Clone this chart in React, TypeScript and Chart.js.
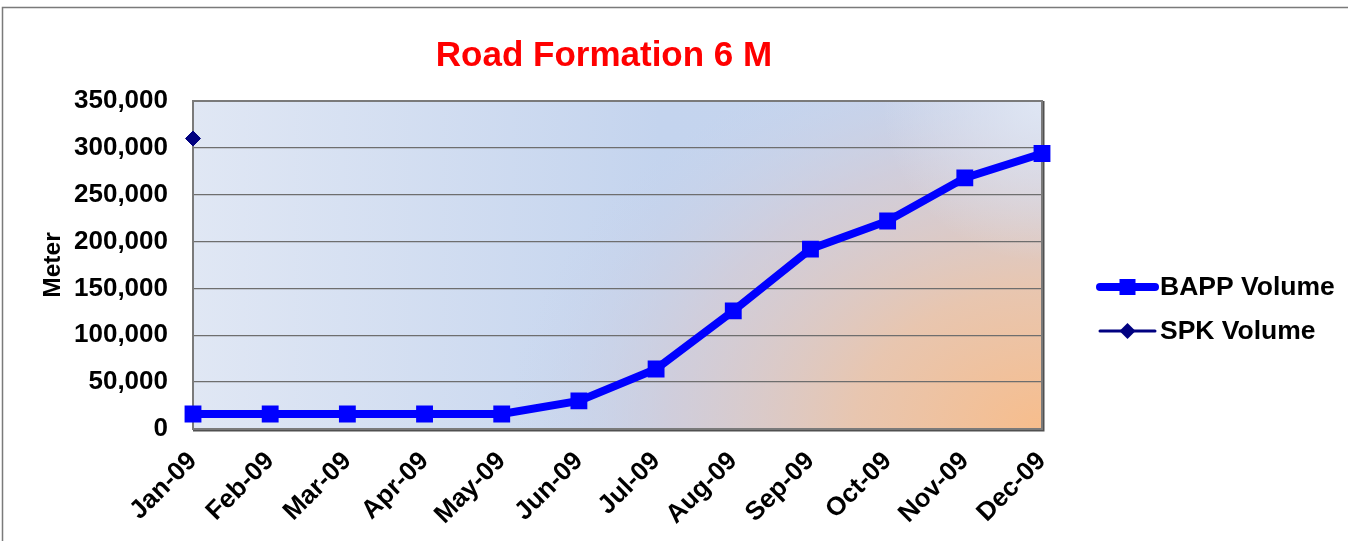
import React, { useEffect, useRef } from 'react';
import { Chart, registerables } from 'chart.js';

Chart.register(...registerables);

const categories = ['Jan-09', 'Feb-09', 'Mar-09', 'Apr-09', 'May-09', 'Jun-09', 'Jul-09', 'Aug-09', 'Sep-09', 'Oct-09', 'Nov-09', 'Dec-09'];
const bappVolume = [16000, 16000, 16000, 16000, 16000, 30000, 64000, 126000, 192000, 222000, 268000, 294000];
const spkVolume: (number | null)[] = [310000, null, null, null, null, null, null, null, null, null, null, null];
const seriesNames = ['BAPP Volume', 'SPK Volume'];
const titleText = 'Road Formation 6 M';
const yAxisTitle = 'Meter';
const yMin = 0;
const yMax = 350000;
const yStep = 50000;

const FONT = 'Arial, "Liberation Sans", Helvetica, sans-serif';
const BAPP_COLOR = '#0000ff';
const SPK_COLOR = '#000080';

const decorPlugin = {
  id: 'decor',
  beforeDraw(chart: any) {
    const { ctx, chartArea: a, width, height } = chart;
    ctx.save();
    ctx.fillStyle = '#ffffff';
    ctx.fillRect(0, 0, width, height);
    // outer frame
    ctx.strokeStyle = '#7a7a7a';
    ctx.lineWidth = 1.5;
    ctx.beginPath();
    ctx.moveTo(2.5, height + 5);
    ctx.lineTo(2.5, 7.5);
    ctx.lineTo(width + 5, 7.5);
    ctx.stroke();
    // plot background
    const w = a.right - a.left;
    const h = a.bottom - a.top;
    const lin = ctx.createLinearGradient(a.left, 0, a.right, 0);
    lin.addColorStop(0, '#e0e7f4');
    lin.addColorStop(0.55, '#c4d4ee');
    lin.addColorStop(1, '#c6d5ee');
    ctx.fillStyle = lin;
    ctx.fillRect(a.left, a.top, w, h);
    // orange radial at bottom right
    ctx.save();
    ctx.beginPath();
    ctx.rect(a.left, a.top, w, h);
    ctx.clip();
    ctx.translate(a.right, a.bottom);
    ctx.scale(1.4, 1.05);
    const rad = ctx.createRadialGradient(0, 0, 0, 0, 0, 380);
    rad.addColorStop(0, 'rgba(247,189,140,1)');
    rad.addColorStop(0.35, 'rgba(234,197,172,0.95)');
    rad.addColorStop(0.7, 'rgba(214,202,210,0.65)');
    rad.addColorStop(1, 'rgba(200,210,235,0)');
    ctx.fillStyle = rad;
    ctx.fillRect(-2000, -2000, 4000, 4000);
    ctx.restore();
    // light top-right corner
    ctx.save();
    ctx.beginPath();
    ctx.rect(a.left, a.top, w, h);
    ctx.clip();
    const rad2 = ctx.createRadialGradient(a.right, a.top, 0, a.right, a.top, 160);
    rad2.addColorStop(0, 'rgba(225,232,245,0.9)');
    rad2.addColorStop(1, 'rgba(225,232,245,0)');
    ctx.fillStyle = rad2;
    ctx.fillRect(a.left, a.top, w, h);
    ctx.restore();
    ctx.restore();
  },
  beforeDatasetsDraw(chart: any) {
    const { ctx, chartArea: a } = chart;
    ctx.save();
    ctx.strokeStyle = '#505050';
    ctx.lineWidth = 3;
    ctx.beginPath();
    ctx.moveTo(a.right + 1, a.top);
    ctx.lineTo(a.right + 1, a.bottom + 1);
    ctx.lineTo(a.left, a.bottom + 1);
    ctx.stroke();
    ctx.strokeStyle = '#7a7a7a';
    ctx.lineWidth = 2;
    ctx.strokeRect(a.left, a.top, a.right - a.left, a.bottom - a.top);
    ctx.restore();
  },
  afterDraw(chart: any) {
    const { ctx } = chart;
    ctx.save();
    // title
    ctx.fillStyle = '#ff0000';
    ctx.font = `bold 35px ${FONT}`;
    ctx.textAlign = 'center';
    ctx.textBaseline = 'middle';
    ctx.fillText(titleText, 604, 56);
    // legend
    const lx0 = 1100;
    const lx1 = 1155;
    const cx = (lx0 + lx1) / 2;
    const rows = [287, 331];
    ctx.lineCap = 'round';
    // BAPP
    ctx.strokeStyle = BAPP_COLOR;
    ctx.lineWidth = 8;
    ctx.beginPath();
    ctx.moveTo(lx0, rows[0]);
    ctx.lineTo(lx1, rows[0]);
    ctx.stroke();
    ctx.fillStyle = BAPP_COLOR;
    ctx.fillRect(cx - 8, rows[0] - 8, 16, 16);
    // SPK
    ctx.strokeStyle = SPK_COLOR;
    ctx.lineWidth = 3;
    ctx.beginPath();
    ctx.moveTo(lx0, rows[1]);
    ctx.lineTo(lx1, rows[1]);
    ctx.stroke();
    ctx.fillStyle = SPK_COLOR;
    ctx.beginPath();
    ctx.moveTo(cx, rows[1] - 8);
    ctx.lineTo(cx + 8, rows[1]);
    ctx.lineTo(cx, rows[1] + 8);
    ctx.lineTo(cx - 8, rows[1]);
    ctx.closePath();
    ctx.fill();
    ctx.fillStyle = '#000000';
    ctx.font = `bold 26.5px ${FONT}`;
    ctx.textAlign = 'left';
    ctx.textBaseline = 'middle';
    ctx.fillText(seriesNames[0], 1160, rows[0] + 1);
    ctx.fillText(seriesNames[1], 1160, rows[1] + 1);
    ctx.restore();
  },
};

export default function App() {
  const ref = useRef<HTMLCanvasElement | null>(null);
  useEffect(() => {
    document.body.style.margin = '0';
    const canvas = ref.current;
    if (!canvas) return;
    const chart = new Chart(canvas, {
      type: 'line',
      data: {
        labels: categories,
        datasets: [
          {
            label: seriesNames[0],
            data: bappVolume,
            borderColor: BAPP_COLOR,
            backgroundColor: BAPP_COLOR,
            borderWidth: 8,
            pointStyle: 'rect',
            pointRadius: 10.5,
            pointBorderWidth: 2,
            pointBackgroundColor: BAPP_COLOR,
            pointBorderColor: BAPP_COLOR,
            tension: 0,
            clip: false,
          },
          {
            label: seriesNames[1],
            data: spkVolume,
            borderColor: SPK_COLOR,
            backgroundColor: SPK_COLOR,
            borderWidth: 3,
            pointStyle: 'rectRot',
            pointRadius: 7.5,
            pointBorderWidth: 1,
            pointBackgroundColor: SPK_COLOR,
            pointBorderColor: SPK_COLOR,
            spanGaps: false,
            clip: false,
          },
        ],
      },
      options: {
        responsive: false,
        animation: false,
        layout: { padding: { top: 101, right: 306, left: 0, bottom: 0 } },
        plugins: {
          legend: { display: false },
          title: { display: false },
          tooltip: { enabled: false },
        },
        scales: {
          x: {
            offset: false,
            grid: { display: false, drawTicks: false },
            border: { display: false },
            ticks: {
              autoSkip: false,
              minRotation: 45,
              maxRotation: 45,
              padding: 17,
              color: '#000000',
              font: { family: FONT, size: 26, weight: 'bold' },
            },
            afterFit: (scale: any) => {
              scale.height = 112;
            },
          },
          y: {
            min: yMin,
            max: yMax,
            grid: { color: '#6e6e6e', lineWidth: 1.3, drawTicks: false },
            border: { display: false },
            ticks: {
              stepSize: yStep,
              padding: 25,
              color: '#000000',
              font: { family: FONT, size: 26, weight: 'bold' },
              callback: (v: any) => Number(v).toLocaleString('en-US'),
            },
            title: {
              display: true,
              text: yAxisTitle,
              color: '#000000',
              font: { family: FONT, size: 24.5, weight: 'bold' },
              padding: { top: 39, bottom: 0 },
            },
            afterFit: (scale: any) => {
              scale.width = 193;
            },
          },
        },
      },
      plugins: [decorPlugin],
    });
    return () => chart.destroy();
  }, []);
  return <canvas ref={ref} width={1348} height={541} style={{ display: 'block', width: 1348, height: 541 }} />;
}
